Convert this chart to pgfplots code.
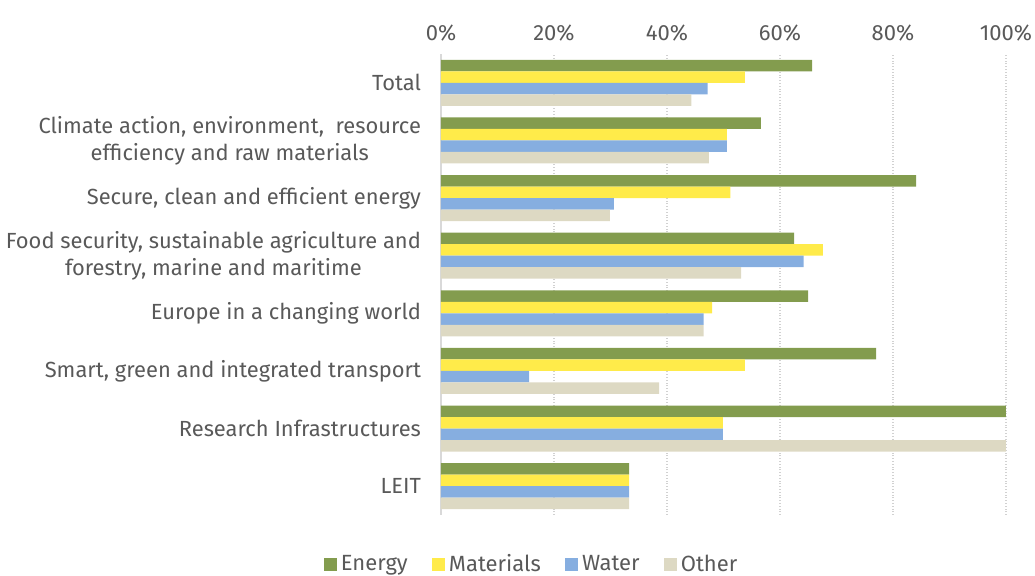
\documentclass[border=0pt]{standalone}
\usepackage{pgfplots}
\pgfplotsset{compat=1.18}
\usepackage{fontspec}
\setmainfont{Fira Sans}
\definecolor{txt}{HTML}{595959}
\definecolor{cEnergy}{HTML}{839C4E}
\definecolor{cMat}{HTML}{FFEB4A}
\definecolor{cWater}{HTML}{86AEE0}
\definecolor{cOther}{HTML}{DDD9C3}
\begin{document}
\begin{tikzpicture}
\begin{axis}[
  scale only axis,
  width=282.5pt, height=230.5pt,
  xbar, bar width=5.75pt,
  xmin=0, xmax=100,
  ymin=-0.5, ymax=7.5,
  xtick={0,20,...,100},
  xticklabel={\pgfmathprintnumber{\tick}\%},
  xticklabel pos=right,
  /pgf/number format/assume math mode=true,
  xticklabel style={font=\fontsize{11}{12}\selectfont, text=txt, yshift=3pt},
  ytick={0,...,7},
  yticklabels={LEIT, Research Infrastructures, {Smart, green and integrated transport}, Europe in a changing world, {Food security, sustainable agriculture and\\forestry, marine and maritime}, {Secure, clean and efficient energy}, {Climate action, environment,\ \ resource\\efficiency and raw materials}, Total},
  yticklabel style={font=\fontsize{10.95}{13.5}\selectfont, text=txt, align=center, xshift=-6.5pt},
  major tick length=0pt,
  axis x line*=top,
  axis y line*=left,
  x axis line style={draw=none},
  y axis line style={draw=black!15, line width=1pt},
  xmajorgrids, grid style={densely dotted, draw=black!18, line width=0.8pt},
  legend style={draw=none, fill=none, at={(0.162,-0.108)}, anchor=center,
    font=\fontsize{11}{12}\selectfont, text=txt, legend columns=4,
    /tikz/every even column/.append style={column sep=10pt}},
  legend image code/.code={\fill[#1] (0pt,-3.3pt) rectangle (6.6pt,3.3pt);},
  legend cell align=left,
]
\addplot[fill=cEnergy, draw=none, bar shift=8.625pt] coordinates {
(65.7,7) (56.6,6) (84.1,5) (62.5,4) (65.0,3) (77.0,2) (100,1) (33.3,0)};
\addplot[fill=cMat, draw=none, bar shift=2.875pt] coordinates {
(53.8,7) (50.6,6) (51.2,5) (67.6,4) (48.0,3) (53.8,2) (49.9,1) (33.3,0)};
\addplot[fill=cWater, draw=none, bar shift=-2.875pt] coordinates {
(47.2,7) (50.6,6) (30.6,5) (64.2,4) (46.5,3) (15.6,2) (49.9,1) (33.3,0)};
\addplot[fill=cOther, draw=none, bar shift=-8.625pt] coordinates {
(44.3,7) (47.4,6) (29.9,5) (53.1,4) (46.5,3) (38.6,2) (100,1) (33.3,0)};
\legend{Energy, Materials, Water, Other}
\end{axis}
\pgfresetboundingbox
\path (-220.5pt,-30.5pt) rectangle (297pt,257.5pt);
\end{tikzpicture}
\end{document}
